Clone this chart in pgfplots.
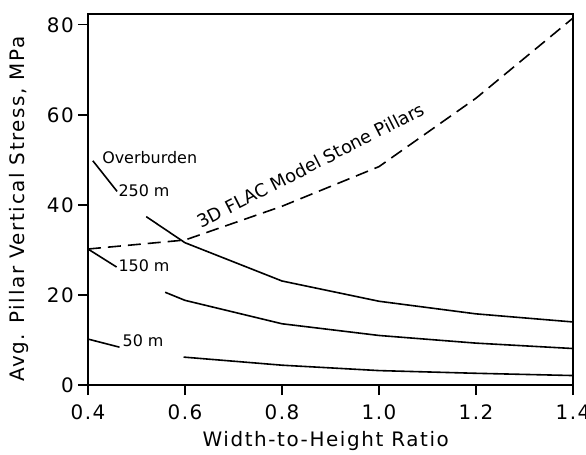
\documentclass[border=0pt]{standalone}
\usepackage{fontspec}
\setmainfont{DejaVu Sans}
\newfontfamily\labfont[LetterSpace=8]{DejaVu Sans}
\usepackage{pgfplots}
\pgfplotsset{compat=1.18}
\begin{document}
\begin{tikzpicture}
\useasboundingbox (-88bp,-70bp) rectangle (498bp,385bp);
\begin{axis}[
  at={(0,0)}, anchor=south west,
  scale only axis, width=485bp, height=371bp,
  xmin=0.4, xmax=1.4, ymin=0, ymax=82.4,
  xtick={0.4,0.6,0.8,1.0,1.2,1.4},
  xticklabels={0.4,0.6,0.8,1.0,1.2,1.4},
  ytick={0,20,40,60,80},
  tick pos=left, tick align=outside, major tick length=10bp,
  axis line style={line width=1.5bp},
  tick style={line width=1.4bp, black},
  /pgf/number format/assume math mode=true,
  ticklabel style={font=\labfont\fontsize{20}{24}\selectfont, inner sep=2bp},
  xticklabel style={yshift=-8bp},
  yticklabel style={xshift=-2bp},
  xlabel={Width-to-Height Ratio},
  ylabel={Avg. Pillar Vertical Stress, MPa},
  label style={font=\labfont\fontsize{20}{24}\selectfont},
  xlabel style={at={(axis description cs:0.49,-0.1671)}, anchor=base},
  ylabel style={at={(axis description cs:-0.1299,0.474)}, anchor=base},
]
% 3D FLAC model (dashed)
\addplot[black, line width=1.6bp, mark=none, dash pattern=on 13bp off 7bp] coordinates {
  (0.4,30.2) (0.6,32.2) (0.8,39.7) (1.0,48.5) (1.2,63.7) (1.4,81.5)};
% 250 m
\addplot[black, line width=1.6bp, mark=none] coordinates {
  (0.52,37.4) (0.6,31.6) (0.8,23.1) (1.0,18.6) (1.2,15.8) (1.4,14.0)};
% 150 m
\addplot[black, line width=1.6bp, mark=none] coordinates {
  (0.559,20.6) (0.6,18.8) (0.8,13.6) (1.0,11.0) (1.2,9.3) (1.4,8.1)};
% 50 m
\addplot[black, line width=1.6bp, mark=none] coordinates {
  (0.597,6.2) (0.8,4.4) (1.0,3.2) (1.2,2.6) (1.4,2.1)};
% leader lines
\addplot[black, line width=1.6bp, mark=none] coordinates {(0.41,49.8) (0.46,43.0)};
\addplot[black, line width=1.6bp, mark=none] coordinates {(0.4,30.2) (0.459,26.2)};
\addplot[black, line width=1.6bp, mark=none] coordinates {(0.4,10.2) (0.465,8.4)};
\node[anchor=base west, inner sep=0, font=\fontsize{16}{19}\selectfont] at (axis cs:0.429,49.3) {Overburden};
\node[anchor=base west, inner sep=0, font=\fontsize{16}{19}\selectfont] at (axis cs:0.4625,41.8) {250 m};
\node[anchor=base west, inner sep=0, font=\fontsize{16}{19}\selectfont] at (axis cs:0.4625,25.2) {150 m};
\node[anchor=base west, inner sep=0, font=\fontsize{16}{19}\selectfont] at (axis cs:0.471,8.5) {50 m};
\node[anchor=base west, inner sep=0, rotate=27, font=\fontsize{18}{21}\selectfont] at (axis cs:0.634,34.8) {3D FLAC Model Stone Pillars};
\end{axis}
\end{tikzpicture}
\end{document}
